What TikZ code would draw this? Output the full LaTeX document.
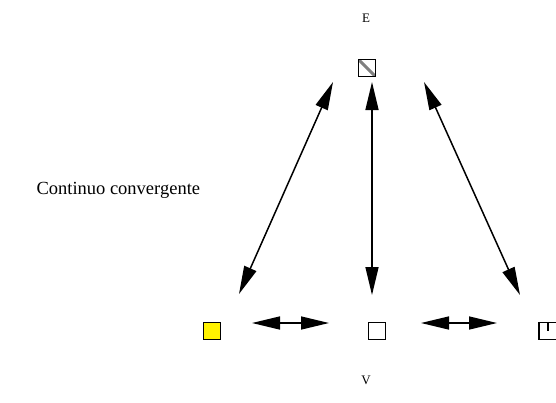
\documentclass[tikz,border=0pt]{standalone}
\usepackage{fontspec}
\setmainfont{Liberation Serif}
\usetikzlibrary{arrows.meta}
\tikzset{cell/.style={rectangle,draw,line width=1.5pt,minimum size=17pt,inner sep=0pt},
         link/.style={{Triangle[length=28pt,width=13pt]}-{Triangle[length=28pt,width=13pt]},line width=1.5pt},
         tag/.style={font=\fontsize{13}{15}\selectfont},
         caption/.style={font=\fontsize{18.5}{22}\selectfont,anchor=west}}

\begin{document}
\begin{tikzpicture}[x=1pt,y=-1pt]
    \useasboundingbox (0,0) rectangle (556,402);
    % Elements
    \node (top) at (367,68) [cell,path picture={\draw[gray,line width=3pt] (path picture bounding box.north west) -- (path picture bounding box.south east);}]{};
    \node (left) at (212,331) [cell,fill=yellow]{};
    \node (mid) at (377,331) [cell]{};
    \node (right) at (548,331) [cell]{};
    \draw[line width=1.3pt] (right.north) -- (right.center);
    \draw[line width=2.5pt] (right.north west) -- (right.south west);
    % Labels
    \node (E) at (366,18) [tag]{E};
    \node (V) at (366,380) [tag]{V};
    \node (cc) at (33,190) [caption]{Continuo convergente};
    % Links
    \draw[link] ([shift={(-34,14)}]top.center) -- ([shift={(27,-37)}]left.center);
    \draw[link] ([shift={(5,14)}]top.center) -- ([shift={(-5,-36)}]mid.center);
    \draw[link] ([shift={(57,14)}]top.center) -- ([shift={(-28,-36)}]right.center);
    \draw[link] ([shift={(40,-8)}]left.center) -- ([shift={(-48,-8)}]mid.center);
    \draw[link] ([shift={(44,-8)}]mid.center) -- ([shift={(-51,-8)}]right.center);
\end{tikzpicture}
\end{document}
